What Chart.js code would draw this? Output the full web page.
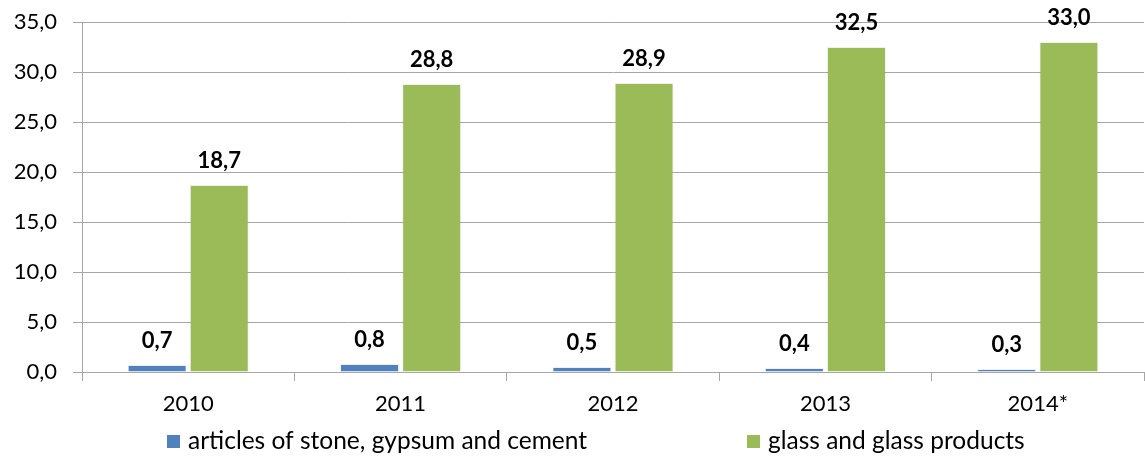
<!DOCTYPE html>
<html>
<head>
<meta charset="utf-8">
<script src="https://cdn.jsdelivr.net/npm/chart.js@4/dist/chart.umd.min.js"></script>
<style>
  html, body { margin: 0; padding: 0; background: #ffffff; }
  #wrap { width: 1145px; height: 457px; position: relative; }
</style>
</head>
<body>
<div id="wrap"><canvas id="c" width="1145" height="457"></canvas></div>
<script>
const categories = ['2010', '2011', '2012', '2013', '2014*'];
const stoneValues = [0.7, 0.8, 0.5, 0.4, 0.3];
const glassValues = [18.7, 28.8, 28.9, 32.5, 33.0];
const seriesNames = ['articles of stone, gypsum and cement', 'glass and glass products'];
const yMin = 0, yMax = 35, yStep = 5;

const FONT = 'Lato, Carlito, "Open Sans", sans-serif';
const BLUE = '#4F81BD';
const GREEN = '#9BBB59';
const fmt = v => v.toFixed(1).replace('.', ',');

const dataLabels = {
  id: 'dataLabels',
  afterDatasetsDraw(chart) {
    const ctx = chart.ctx;
    ctx.save();
    ctx.font = 'bold 22px ' + FONT;
    ctx.fillStyle = '#000000';
    ctx.textAlign = 'center';
    ctx.textBaseline = 'alphabetic';
    chart.data.datasets.forEach((ds, i) => {
      const meta = chart.getDatasetMeta(i);
      meta.data.forEach((el, j) => {
        ctx.fillText(fmt(ds.data[j]), el.x, el.y - 17);
      });
    });
    ctx.restore();
  }
};

const bottomLegend = {
  id: 'bottomLegend',
  afterDraw(chart) {
    const ctx = chart.ctx;
    const left = chart.chartArea.left;
    const y = 441;
    const starts = [left + 85, left + 665];
    ctx.save();
    ctx.font = '24.5px ' + FONT;
    ctx.textBaseline = 'middle';
    ctx.textAlign = 'left';
    chart.data.datasets.forEach((ds, i) => {
      const x = starts[i];
      ctx.fillStyle = ds.backgroundColor;
      ctx.fillRect(x, y - 6, 13, 13);
      ctx.fillStyle = '#000000';
      ctx.fillText(ds.label, x + 21, y);
    });
    ctx.restore();
  }
};

new Chart(document.getElementById('c'), {
  type: 'bar',
  data: {
    labels: categories,
    datasets: [
      { label: seriesNames[0], data: stoneValues, backgroundColor: BLUE, borderColor: 'rgba(0,0,0,0.06)', borderWidth: 1,
        categoryPercentage: 0.585, barPercentage: 0.95 },
      { label: seriesNames[1], data: glassValues, backgroundColor: GREEN, borderColor: 'rgba(0,0,0,0.06)', borderWidth: 1,
        categoryPercentage: 0.585, barPercentage: 0.95 }
    ]
  },
  options: {
    responsive: false,
    animation: false,
    devicePixelRatio: 1,
    layout: { padding: { top: 22, right: 1, left: 0, bottom: 0 } },
    plugins: {
      legend: { display: false },
      tooltip: { enabled: false },
      title: { display: false }
    },
    scales: {
      x: {
        grid: { display: true, drawOnChartArea: false, drawTicks: true, tickLength: 9, color: '#A6A6A6', offset: true },
        border: { display: true, color: '#A6A6A6', width: 1 },
        ticks: { color: '#000000', font: { family: FONT, size: 22 }, padding: 10, maxRotation: 0 },
        afterFit(s) { s.height = 85; s.paddingLeft = 0; s.paddingRight = 0; }
      },
      y: {
        min: yMin, max: yMax,
        grid: { color: '#A6A6A6', drawTicks: true, tickLength: 9 },
        border: { display: true, color: '#A6A6A6', width: 1 },
        ticks: { stepSize: yStep, color: '#000000', font: { family: FONT, size: 22 }, padding: 16,
          callback: v => fmt(v) },
        afterFit(s) { s.width = 82; s.paddingTop = 0; s.paddingBottom = 0; }
      }
    }
  },
  plugins: [dataLabels, bottomLegend]
});
</script>
</body>
</html>
